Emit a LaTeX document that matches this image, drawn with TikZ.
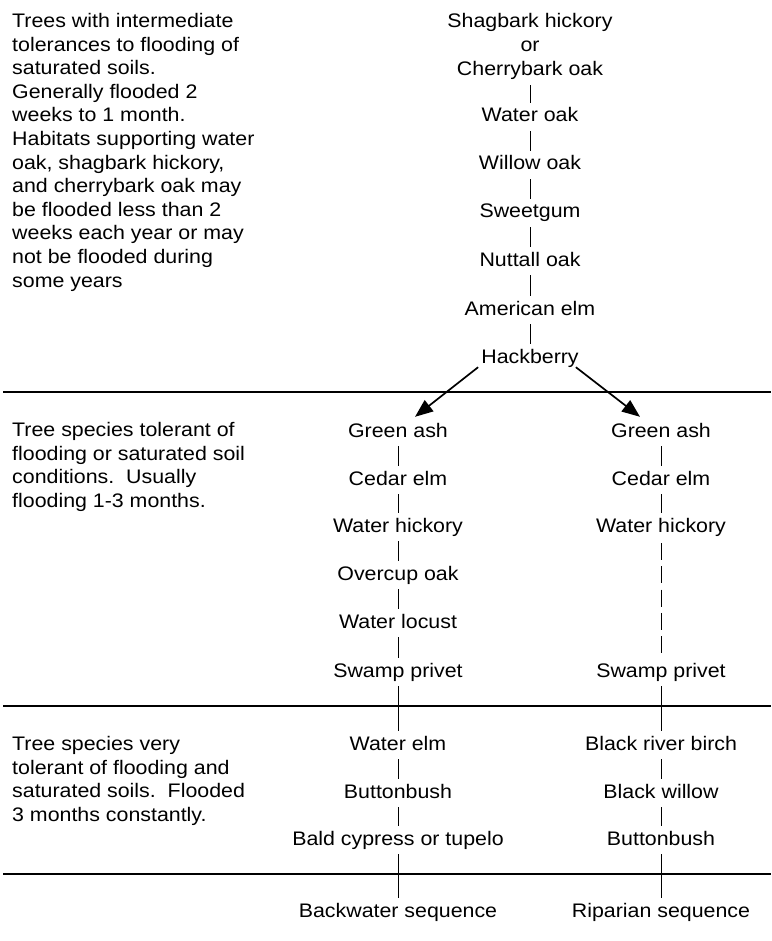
\documentclass[tikz,border=0pt]{standalone}
\usepackage{fontspec}
\setmainfont{Liberation Sans}[FakeStretch=1.09]
\usetikzlibrary{arrows.meta}
\begin{document}
\begin{tikzpicture}[x=1pt,y=-1pt,
  every node/.style={font=\fontsize{19.6pt}{23.6pt}\selectfont, inner sep=0pt},
  sp/.style={anchor=base, text height=14pt, text depth=4pt},
  desc/.style={anchor=north west, align=left},
  link/.style={line width=0.9pt, shorten <=5pt, shorten >=5pt},
  gaplink/.style={line width=0.9pt, shorten <=7pt, shorten >=10pt, dash pattern=on 17pt off 6.25pt},
  rulez/.style={line width=1.5pt},
  arr/.style={line width=1.7pt, -{Triangle[length=18pt,width=14pt]}}]
\fill[white] (0,0) rectangle (771,941);
\useasboundingbox (0,0) rectangle (771,941);

% section rules
\draw[rulez] (3,392) -- (771,392);
\draw[rulez] (3,706) -- (771,706);
\draw[rulez] (3,874) -- (771,874);

% descriptions
\node[desc] (d1) at (12,13) {Trees with intermediate\\tolerances to flooding of\\saturated soils.\\Generally flooded 2\\weeks to 1 month.\\Habitats supporting water\\oak, shagbark hickory,\\and cherrybark oak may\\be flooded less than 2\\weeks each year or may\\not be flooded during\\some years};
\node[desc] (d2) at (12,422) {Tree species tolerant of\\flooding or saturated soil\\conditions.\ \ Usually\\flooding 1-3 months.};
\node[desc] (d3) at (12,736) {Tree species very\\tolerant of flooding and\\saturated soils.\ \ Flooded\\3 months constantly.};

% top column
\node[sp] (shag) at (530,28) {Shagbark hickory};
\node[sp] (or)   at (530,52) {or};
\node[sp] (cher) at (530,76) {Cherrybark oak};
\node[sp] (woak) at (530,122) {Water oak};
\node[sp] (wil)  at (530,170) {Willow oak};
\node[sp] (swg)  at (530,218) {Sweetgum};
\node[sp] (nut)  at (530,266) {Nuttall oak};
\node[sp] (aelm) at (530,315) {American elm};
\node[sp] (hack) at (530,363) {Hackberry};
\draw[link] (cher) -- (woak);
\draw[link] (woak) -- (wil);
\draw[link] (wil) -- (swg);
\draw[link] (swg) -- (nut);
\draw[link] (nut) -- (aelm);
\draw[link] (aelm) -- (hack);

% backwater column
\node[sp] (lga)  at (398,437) {Green ash};
\node[sp] (lce)  at (398,485) {Cedar elm};
\node[sp] (lwh)  at (398,532) {Water hickory};
\node[sp] (lov)  at (398,580) {Overcup oak};
\node[sp] (lwl)  at (398,628) {Water locust};
\node[sp] (lsp)  at (398,677) {Swamp privet};
\node[sp] (lwe)  at (398,750) {Water elm};
\node[sp] (lbb)  at (398,798) {Buttonbush};
\node[sp] (lbc)  at (398,845) {Bald cypress or tupelo};
\node[sp] (lseq) at (398,917) {Backwater sequence};
\draw[link] (lga) -- (lce);
\draw[link] (lce) -- (lwh);
\draw[link] (lwh) -- (lov);
\draw[link] (lov) -- (lwl);
\draw[link] (lwl) -- (lsp);
\draw[link] (lsp) -- (lwe);
\draw[link] (lwe) -- (lbb);
\draw[link] (lbb) -- (lbc);
\draw[link] (lbc) -- (lseq);

% riparian column
\node[sp] (rga)  at (661,437) {Green ash};
\node[sp] (rce)  at (661,485) {Cedar elm};
\node[sp] (rwh)  at (661,532) {Water hickory};
\node[sp] (rsp)  at (661,677) {Swamp privet};
\node[sp] (rbr)  at (661,750) {Black river birch};
\node[sp] (rbw)  at (661,798) {Black willow};
\node[sp] (rbb)  at (661,845) {Buttonbush};
\node[sp] (rseq) at (661,917) {Riparian sequence};
\draw[link] (rga) -- (rce);
\draw[link] (rce) -- (rwh);
\draw[gaplink] (rwh) -- (rsp);
\draw[link] (rsp) -- (rbr);
\draw[link] (rbr) -- (rbw);
\draw[link] (rbw) -- (rbb);
\draw[link] (rbb) -- (rseq);

% branching arrows
\draw[arr] ([xshift=-3pt]hack.south west) -- ([xshift=17pt,yshift=6pt]lga.north);
\draw[arr] ([xshift=-3pt]hack.south east) -- ([xshift=-21pt,yshift=6pt]rga.north);
\end{tikzpicture}
\end{document}
